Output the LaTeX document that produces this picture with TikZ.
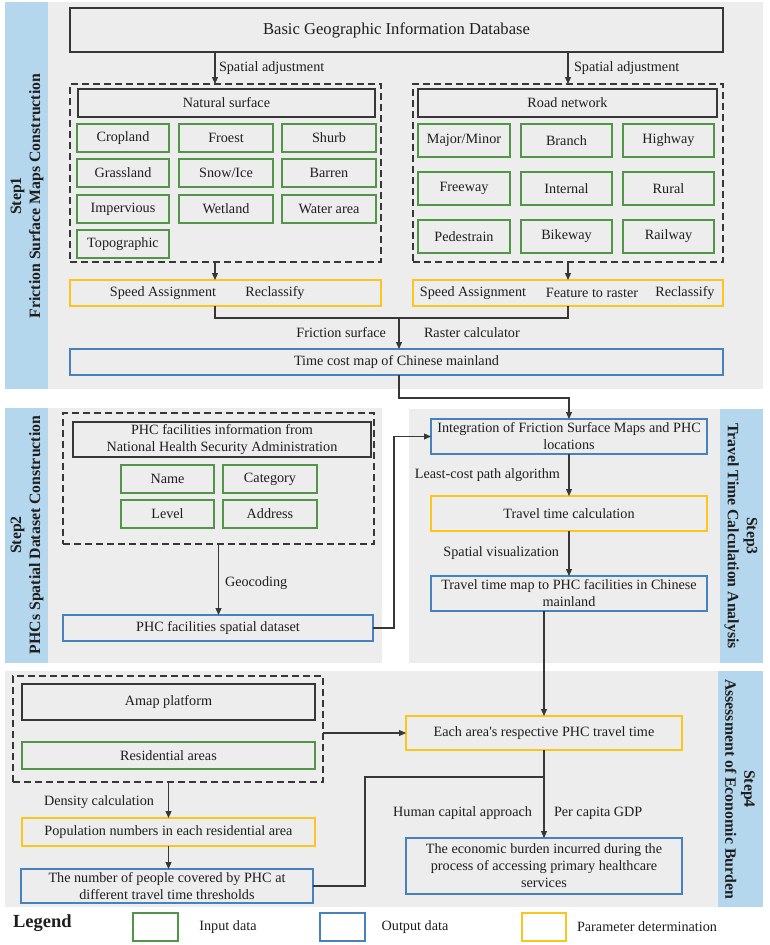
\documentclass[tikz,border=0pt]{standalone}
\usepackage{fontspec}
\setmainfont{Liberation Serif}
\usetikzlibrary{arrows.meta,calc}
\definecolor{bggray}{RGB}{237,237,237}
\definecolor{stripblue}{RGB}{180,215,238}
\definecolor{gbord}{RGB}{80,150,70}
\definecolor{bbord}{RGB}{70,130,190}
\definecolor{ybord}{RGB}{252,196,30}
\definecolor{kbord}{RGB}{55,55,55}
\definecolor{txt}{RGB}{30,30,30}
\newcommand\bx[7]{%
  \pgfmathsetmacro\bxCX{(#3+#5)/2}%
  \pgfmathsetmacro\bxCY{(#4+#6)/2}%
  \pgfmathsetmacro\bxW{#5-#3}%
  \pgfmathsetmacro\bxH{#6-#4}%
  \node[#1, minimum width=\bxW pt, minimum height=\bxH pt] (#2) at (\bxCX,\bxCY) {#7};}
\begin{document}
\begin{tikzpicture}[x=1pt,y=-1pt,
  every node/.style={font=\fontsize{14.2}{17}\selectfont, text=txt, inner sep=0pt, outer sep=0pt, align=center},
  gbox/.style={draw=gbord, line width=1.2pt},
  bbox/.style={draw=bbord, line width=1.2pt},
  ybox/.style={draw=ybord, line width=1.2pt},
  kbox/.style={draw=kbord, line width=1.2pt},
  dbox/.style={draw=kbord, line width=1.4pt, dash pattern=on 7pt off 4pt},
  conn/.style={draw=kbord, line width=1.2pt},
  arr/.style={conn, -{Triangle[length=7pt,width=6pt]}},
  steplbl/.style={font=\bfseries\fontsize{15.8}{19}\selectfont}]
\useasboundingbox (0,0) rectangle (770,945);
% panels
\fill[bggray] (5,2) rectangle (763,389);
\fill[stripblue] (5,2) rectangle (48,389);
\fill[bggray] (5,408) rectangle (382,663);
\fill[stripblue] (5,408) rectangle (48,663);
\fill[bggray] (409,409) rectangle (763,663);
\fill[stripblue] (720,409) rectangle (763,663);
\fill[bggray] (5,671) rectangle (763,907);
\fill[stripblue] (718,671) rectangle (763,907);
% step labels
\node[steplbl, rotate=90] (s1) at (27,196) {Step1\\Friction Surface Maps Construction};
\node[steplbl, rotate=90] (s2) at (27,535) {Step2\\PHCs Spatial Dataset Construction};
\node[steplbl, rotate=-90] (s3) at (741,536) {Step3\\Travel Time Calculation Analysis};
\node[steplbl, rotate=-90] (s4) at (740,789) {Step4\\Assessment of Economic Burden};
% Step 1
\bx{kbox}{db}{70}{8}{723}{52}{\fontsize{16.6}{20}\selectfont Basic Geographic Information Database}
\bx{dbox}{ldash}{70}{84}{381}{262}{}
\bx{dbox}{rdash}{413}{84}{723}{262}{}
\bx{kbox}{ns}{78}{89}{375}{117}{Natural surface}
\bx{kbox}{rn}{418}{89}{717}{117}{Road network}
\bx{gbox}{n11}{77}{124}{169}{152}{Cropland}
\bx{gbox}{n12}{179}{124}{273}{152}{Froest}
\bx{gbox}{n13}{282}{124}{376}{152}{Shurb}
\bx{gbox}{n21}{77}{159}{169}{187}{Grassland}
\bx{gbox}{n22}{179}{159}{273}{187}{Snow/Ice}
\bx{gbox}{n23}{282}{159}{376}{187}{Barren}
\bx{gbox}{n31}{77}{195}{169}{223}{Impervious}
\bx{gbox}{n32}{179}{195}{273}{223}{Wetland}
\bx{gbox}{n33}{282}{195}{376}{223}{Water area}
\bx{gbox}{n41}{77}{230}{169}{258}{Topographic}
\bx{gbox}{r11}{418}{124}{510}{157}{Major/Minor}
\bx{gbox}{r12}{521}{124}{612}{157}{Branch}
\bx{gbox}{r13}{623}{124}{714}{157}{Highway}
\bx{gbox}{r21}{418}{172}{510}{205}{Freeway}
\bx{gbox}{r22}{521}{172}{612}{205}{Internal}
\bx{gbox}{r23}{623}{172}{714}{205}{Rural}
\bx{gbox}{r31}{418}{220}{510}{253}{Pedestrain}
\bx{gbox}{r32}{521}{220}{612}{253}{Bikeway}
\bx{gbox}{r33}{623}{220}{714}{253}{Railway}
\bx{ybox}{lyel}{70}{280}{381}{306}{}
\bx{ybox}{ryel}{413}{280}{723}{306}{}
\node (ly1) at (163,293) {Speed Assignment};
\node (ly2) at (275,293) {Reclassify};
\node (ry1) at (473,293) {Speed Assignment};
\node (ry2) at (592,293) {Feature to raster};
\node (ry3) at (685,293) {Reclassify};
\bx{bbox}{tc}{70}{349}{723}{375}{Time cost map of Chinese mainland}
\node[anchor=west] (sa1) at (219,68) {Spatial adjustment};
\node[anchor=west] (sa2) at (574,68) {Spatial adjustment};
\node[anchor=east] (fs) at (386,333) {Friction surface};
\node[anchor=west] (rc) at (424,333) {Raster calculator};
% Step 2
\bx{dbox}{pdash}{63}{413}{374}{544}{}
\bx{kbox}{pinfo}{73}{422}{371}{457}{PHC facilities information from\\National Health Security Administration}
\bx{gbox}{nm}{121}{465}{214}{493}{Name}
\bx{gbox}{cat}{223}{465}{317}{493}{Category}
\bx{gbox}{lvl}{121}{500}{214}{528}{Level}
\bx{gbox}{adr}{223}{500}{317}{528}{Address}
\bx{bbox}{ds}{63}{615}{373}{641}{PHC facilities spatial dataset}
\node[anchor=west] (geo) at (225,583) {Geocoding};
% Step 3
\bx{bbox}{integ}{431}{419}{707}{454}{Integration of Friction Surface Maps and PHC\\locations}
\bx{ybox}{ttc}{431}{496}{707}{531}{Travel time calculation}
\bx{bbox}{ttm}{431}{576}{707}{611}{Travel time map to PHC facilities in Chinese\\mainland}
\node[anchor=east] (lcp) at (560,475) {Least-cost path algorithm};
\node[anchor=east] (sv) at (559,553) {Spatial visualization};
% Step 4
\bx{dbox}{sdash}{13}{676}{323}{782}{}
\bx{kbox}{amap}{22}{684}{315}{720}{Amap platform}
\bx{gbox}{res}{22}{742}{315}{769}{Residential areas}
\bx{ybox}{pop}{22}{818}{315}{846}{Population numbers in each residential area}
\bx{bbox}{num}{21}{869}{313}{903}{The number of people covered by PHC at\\different travel time thresholds}
\bx{ybox}{ea}{406}{716}{682}{750}{Each area\textquotesingle s respective PHC travel time}
\bx{bbox}{econ}{406}{838}{682}{894}{The economic burden incurred during the\\process of accessing primary healthcare\\services}
\node[anchor=west] (dc) at (44,802) {Density calculation};
\node[anchor=east] (hc) at (532,813) {Human capital approach};
\node[anchor=west] (pc) at (554,813) {Per capita GDP};
% Legend
\node[font=\bfseries\fontsize{18.5}{22}\selectfont, anchor=west] (leg) at (13,923) {Legend};
\bx{gbox}{lg1}{133}{913}{178}{941}{}
\node (lt1) at (228,927) {Input data};
\bx{bbox}{lg2}{320}{913}{365}{941}{}
\node (lt2) at (415,927) {Output data};
\bx{ybox}{lg3}{522}{913}{566}{941}{}
\node (lt3) at (647,927) {Parameter determination};
% coordinates
\coordinate (a1) at (215,0);
\coordinate (j1) at (399,318);
\coordinate (j2) at (569,398);
\coordinate (j3) at (394,0);
\coordinate (j4) at (365,777);
% connectors
\draw[arr] (db.south -| a1) -- (ldash.north -| a1);
\draw[arr] (db.south -| rdash.north) -- (rdash.north);
\draw[arr] (ldash.south -| a1) -- (lyel.north -| a1);
\draw[arr] (rdash.south) -- (ryel.north);
\draw[conn] (lyel.south -| a1) |- (j1);
\draw[conn] (ryel.south) |- (j1);
\draw[arr] (j1) -- (tc.north -| j1);
\draw[arr] (tc.south -| j1) |- (j2) -- (integ.north -| j2);
\draw[arr] (pdash.south) -- (pdash.south |- ds.north);
\draw[arr] (ds.east) -| (integ.west -| j3) -- (integ.west);
\draw[arr] (integ.south) -- (ttc.north);
\draw[arr] (ttc.south) -- (ttm.north);
\draw[arr] (ttm.south -| ea.north) -- (ea.north);
\draw[arr] (ea.west -| sdash.east) -- (ea.west);
\draw[arr] (sdash.south -| pop.north) -- (pop.north);
\draw[arr] (pop.south) -- (pop.south |- num.north);
\draw[conn] (num.east) -| (j4) -- (j4 -| ea.south);
\draw[arr] (ea.south) -- (econ.north);
\end{tikzpicture}
\end{document}
